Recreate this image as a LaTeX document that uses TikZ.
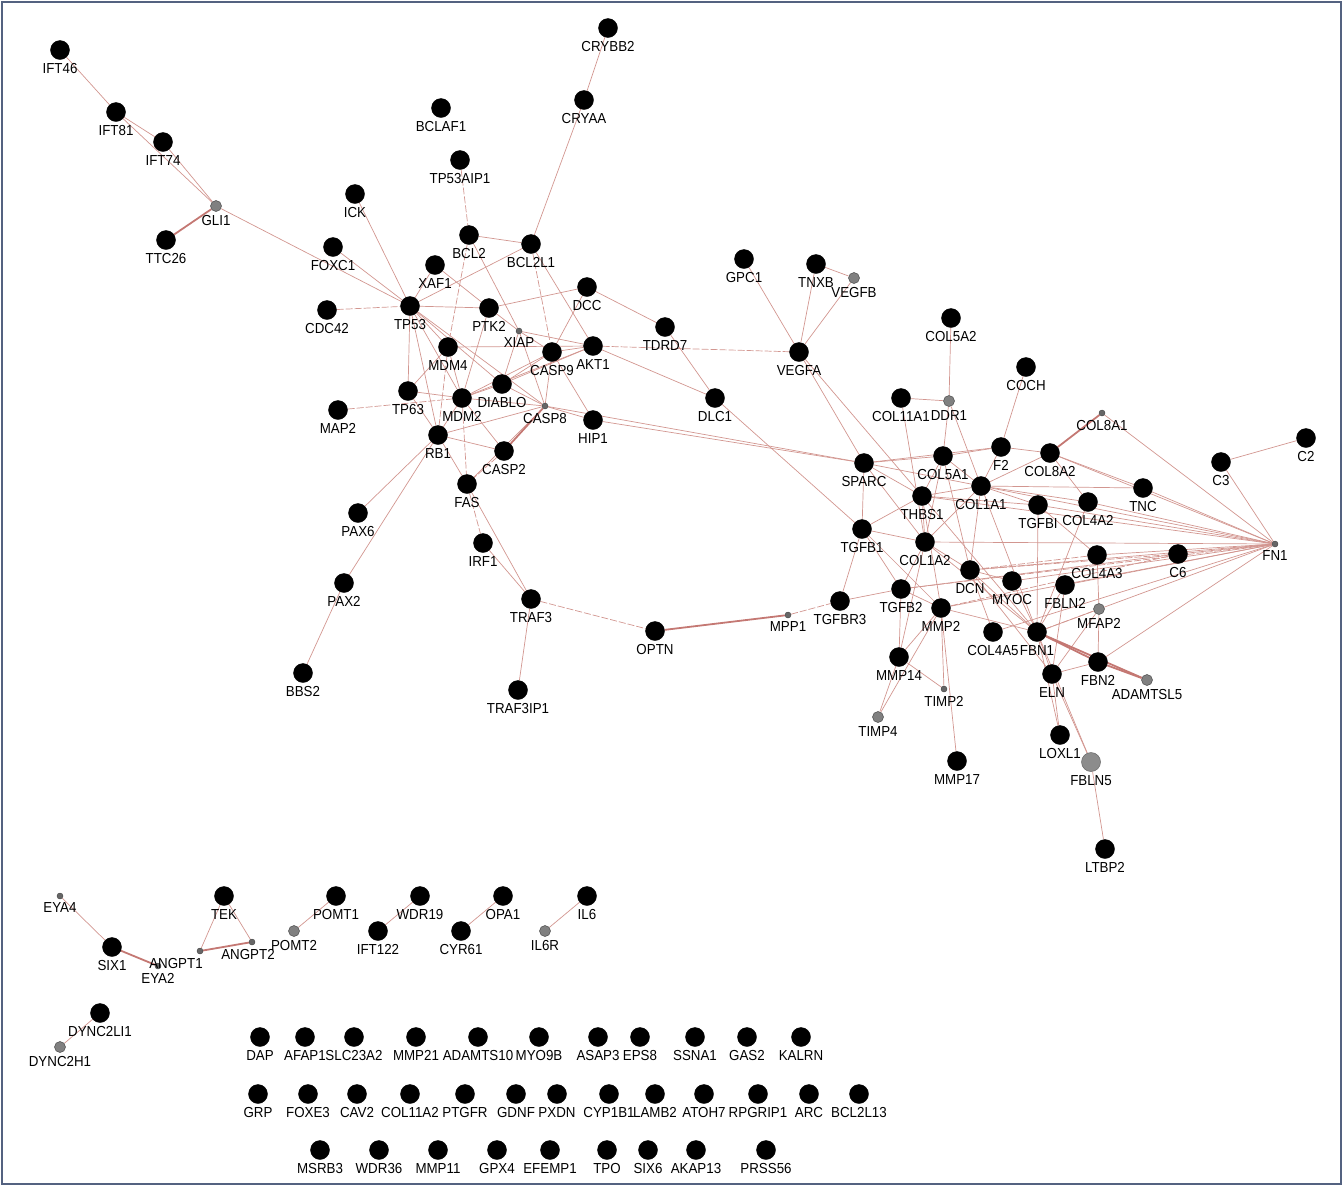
\documentclass[tikz,border=0pt]{standalone}
\usepackage{fontspec}
\setmainfont{Liberation Sans}[FakeStretch=0.92]
\usetikzlibrary{backgrounds}
\definecolor{edgec}{RGB}{210,150,144}
\definecolor{edgek}{RGB}{196,120,115}
\definecolor{framec}{RGB}{84,98,128}
\tikzset{
 bn/.style={circle,fill=black,draw=black,minimum size=19pt,inner sep=0pt},
 sn/.style={circle,fill=black!60,draw=black!75,minimum size=6pt,inner sep=0pt,line width=0.4pt},
 mn/.style={circle,fill=black!50,draw=black!70,minimum size=11pt,inner sep=0pt,line width=0.5pt},
 gn/.style={circle,fill=black!45,draw=black!60,minimum size=19pt,inner sep=0pt,line width=0.5pt},
 lab/.style={font=\fontsize{14.5}{16}\selectfont,inner sep=1.5pt,text=black},
 ed/.style={draw=edgec,line width=0.7pt},
 edd/.style={draw=edgec,line width=0.7pt,dash pattern=on 7pt off 2pt},
 edt/.style={draw=edgek,line width=1.8pt},
 every label/.style={label distance=2pt},
}
\newcommand\gnode[5][bn]{\node[#1,label={[lab]below:#5}] (#2) at (#3,#4) {};}
\begin{document}
\begin{tikzpicture}[x=1pt,y=-1pt]
\useasboundingbox (0,0) rectangle (1344,1187);
\draw[framec,line width=2pt] (2,2) rectangle (1341,1184);
% ---- main component, left part
\gnode{IFT46}{60}{50}{IFT46}
\gnode{IFT81}{116}{112}{IFT81}
\gnode{IFT74}{163}{142}{IFT74}
\gnode[mn]{GLI1}{216}{206}{GLI1}
\gnode{TTC26}{166}{240}{TTC26}
\gnode{ICK}{355}{194}{ICK}
\gnode{FOXC1}{333}{247}{FOXC1}
\gnode{CDC42}{327}{310}{CDC42}
\gnode{TP53}{410}{306}{TP53}
\gnode{XAF1}{435}{265}{XAF1}
\gnode{BCLAF1}{441}{108}{BCLAF1}
\gnode{TP53AIP1}{460}{160}{TP53AIP1}
\gnode{BCL2}{469}{235}{BCL2}
\gnode{BCL2L1}{531}{244}{BCL2L1}
\gnode{CRYBB2}{608}{28}{CRYBB2}
\gnode{CRYAA}{584}{100}{CRYAA}
\gnode{PTK2}{489}{308}{PTK2}
\gnode{DCC}{587}{287}{DCC}
\gnode[sn]{XIAP}{519}{331}{XIAP}
\gnode{MDM4}{448}{347}{MDM4}
\gnode{CASP9}{552}{352}{CASP9}
\gnode{AKT1}{593}{346}{AKT1}
\gnode{DIABLO}{502}{384}{DIABLO}
\gnode{TP63}{408}{391}{TP63}
\gnode{MDM2}{462}{398}{MDM2}
\gnode[sn]{CASP8}{545}{406}{CASP8}
\gnode{HIP1}{593}{420}{HIP1}
\gnode{MAP2}{338}{410}{MAP2}
\gnode{RB1}{438}{435}{RB1}
\gnode{CASP2}{504}{451}{CASP2}
\gnode{FAS}{467}{484}{FAS}
\gnode{PAX6}{358}{513}{PAX6}
\gnode{IRF1}{483}{543}{IRF1}
\gnode{PAX2}{344}{583}{PAX2}
\gnode{BBS2}{303}{673}{BBS2}
\gnode{TRAF3}{531}{599}{TRAF3}
\gnode{TRAF3IP1}{518}{690}{TRAF3IP1}
\gnode{OPTN}{655}{631}{OPTN}
\gnode{TDRD7}{665}{327}{TDRD7}
\gnode{DLC1}{715}{398}{DLC1}
\gnode{GPC1}{744}{259}{GPC1}
\gnode{TNXB}{816}{264}{TNXB}
\gnode[mn]{VEGFB}{854}{278}{VEGFB}
\gnode{VEGFA}{799}{352}{VEGFA}
\gnode[sn]{MPP1}{788}{615}{MPP1}
\gnode{TGFBR3}{840}{601}{TGFBR3}
% ---- right part
\gnode{COL5A2}{951}{318}{COL5A2}
\gnode{COCH}{1026}{367}{COCH}
\gnode{COL11A1}{901}{398}{COL11A1}
\gnode[mn]{DDR1}{949}{401}{DDR1}
\gnode[sn]{COL8A1}{1102}{413}{COL8A1}
\gnode{C2}{1306}{438}{C2}
\gnode{C3}{1221}{462}{C3}
\gnode{F2}{1001}{447}{F2}
\gnode{COL8A2}{1050}{453}{COL8A2}
\gnode{COL5A1}{943}{456}{COL5A1}
\gnode{SPARC}{864}{463}{SPARC}
\gnode{COL1A1}{981}{486}{COL1A1}
\gnode{THBS1}{922}{496}{THBS1}
\gnode{TGFBI}{1038}{505}{TGFBI}
\gnode{COL4A2}{1088}{502}{COL4A2}
\gnode{TNC}{1143}{488}{TNC}
\gnode[sn]{FN1}{1275}{544}{FN1}
\gnode{TGFB1}{862}{529}{TGFB1}
\gnode{COL1A2}{925}{542}{COL1A2}
\gnode{COL4A3}{1097}{555}{COL4A3}
\gnode{C6}{1178}{554}{C6}
\gnode{DCN}{970}{570}{DCN}
\gnode{MYOC}{1012}{581}{MYOC}
\gnode{FBLN2}{1065}{585}{FBLN2}
\gnode{TGFB2}{901}{589}{TGFB2}
\gnode{MMP2}{941}{608}{MMP2}
\gnode[mn]{MFAP2}{1099}{609}{MFAP2}
\gnode{COL4A5}{993}{632}{COL4A5}
\gnode{FBN1}{1037}{632}{FBN1}
\gnode{FBN2}{1098}{662}{FBN2}
\gnode[mn]{ADAMTSL5}{1147}{680}{ADAMTSL5}
\gnode{ELN}{1052}{674}{ELN}
\gnode{MMP14}{899}{657}{MMP14}
\gnode[sn]{TIMP2}{944}{689}{TIMP2}
\gnode[mn]{TIMP4}{878}{717}{TIMP4}
\gnode{LOXL1}{1060}{735}{LOXL1}
\gnode[gn]{FBLN5}{1091}{762}{FBLN5}
\gnode{MMP17}{957}{761}{MMP17}
\gnode{LTBP2}{1105}{849}{LTBP2}
% ---- small components
\gnode[sn]{EYA4}{60}{896}{EYA4}
\gnode{SIX1}{112}{947}{SIX1}
\gnode[sn]{EYA2}{158}{966}{EYA2}
\gnode{TEK}{224}{896}{TEK}
\node[sn,label={[lab,xshift=-24pt]below:ANGPT1}] (ANGPT1) at (200,951) {};
\node[sn,label={[lab,xshift=-4pt]below:ANGPT2}] (ANGPT2) at (252,942) {};
\gnode[mn]{POMT2}{294}{931}{POMT2}
\gnode{POMT1}{336}{896}{POMT1}
\gnode{WDR19}{420}{896}{WDR19}
\gnode{IFT122}{378}{931}{IFT122}
\gnode{OPA1}{503}{896}{OPA1}
\gnode{CYR61}{461}{931}{CYR61}
\gnode{IL6}{587}{896}{IL6}
\gnode[mn]{IL6R}{545}{931}{IL6R}
\gnode{DYNC2LI1}{100}{1013}{DYNC2LI1}
\gnode[mn]{DYNC2H1}{60}{1047}{DYNC2H1}
% ---- isolated nodes
\foreach \n/\x in {DAP/260,AFAP1/305,SLC23A2/354,MMP21/416,ADAMTS10/478,MYO9B/539,ASAP3/598,EPS8/640,SSNA1/695,GAS2/747,KALRN/801}
  \node[bn,label={[lab]below:\n}] (\n) at (\x,1037) {};
\foreach \n/\x in {GRP/258,FOXE3/308,CAV2/357,COL11A2/410,PTGFR/465,GDNF/516,PXDN/557,CYP1B1/609,LAMB2/655,ATOH7/704,RPGRIP1/758,ARC/809,BCL2L13/859}
  \node[bn,label={[lab]below:\n}] (\n) at (\x,1094) {};
\foreach \n/\x in {MSRB3/320,WDR36/379,MMP11/438,GPX4/497,EFEMP1/550,TPO/607,SIX6/648,AKAP13/696,PRSS56/766}
  \node[bn,label={[lab]below:\n}] (\n) at (\x,1150) {};
% ---- edges
\begin{scope}[on background layer]
\foreach \a/\b in {IFT46/IFT81,IFT81/IFT74,IFT81/GLI1,IFT74/GLI1,GLI1/TP53,ICK/TP53,FOXC1/TP53,XAF1/TP53,XAF1/PTK2,TP53/PTK2,TP53/BCL2L1,TP53/MDM4,TP53/MDM2,TP53/TP63,TP53/RB1,TP53/CASP8,TP53/DIABLO,
  CRYBB2/CRYAA,CRYAA/BCL2L1,BCL2/BCL2L1,BCL2/XIAP,BCL2L1/AKT1,PTK2/DCC,PTK2/XIAP,PTK2/MDM2,XIAP/AKT1,XIAP/CASP9,XIAP/CASP8,XIAP/DIABLO,MDM4/AKT1,MDM4/MDM2,DCC/CASP9,DCC/TDRD7,AKT1/DLC1,TDRD7/DLC1,AKT1/CASP9,AKT1/DIABLO,AKT1/MDM2,CASP9/HIP1,CASP9/DIABLO,CASP8/HIP1,CASP8/SPARC,HIP1/SPARC,DLC1/TGFB1,
  VEGFA/SPARC,VEGFA/THBS1,GPC1/VEGFA,TNXB/VEGFA,VEGFB/VEGFA,TNXB/VEGFB,CASP8/FAS,CASP8/RB1,CASP8/MDM2,CASP8/CASP9,CASP8/DIABLO,CASP2/RB1,CASP2/MDM2,RB1/MDM2,RB1/TP63,RB1/FAS,RB1/PAX6,RB1/PAX2,PAX2/BBS2,TP63/MDM2,TP63/MDM4,MDM2/DIABLO,MDM2/CASP9,FAS/TRAF3,IRF1/TRAF3,TRAF3/TRAF3IP1,TGFBR3/TGFB1,TGFBR3/TGFB2,
  COL5A2/DDR1,COL11A1/DDR1,DDR1/COL5A1,DDR1/COL1A1,COL11A1/COL1A2,COCH/F2,COL8A1/FN1,C2/C3,C3/FN1,F2/COL5A1,F2/COL8A2,F2/COL1A1,F2/SPARC,COL8A2/COL1A1,COL8A2/COL4A2,COL8A2/TNC,COL8A2/FN1,
  SPARC/COL5A1,SPARC/THBS1,SPARC/COL1A1,SPARC/TGFB1,SPARC/COL1A2,COL5A1/THBS1,COL5A1/COL1A1,COL5A1/COL1A2,COL5A1/DCN,COL1A1/THBS1,COL1A1/TGFBI,COL1A1/COL4A2,COL1A1/FN1,COL1A1/COL1A2,COL1A1/DCN,COL1A1/TNC,COL1A1/FBN1,
  THBS1/TGFB1,THBS1/COL1A2,THBS1/FN1,THBS1/TGFBI,THBS1/MMP2,THBS1/FBN1,TGFBI/FBN1,TGFBI/COL4A3,TGFBI/FN1,COL4A2/FN1,COL4A2/FBN1,TNC/FN1,TGFB1/COL1A2,TGFB1/TGFB2,TGFB1/MMP2,
  COL1A2/FN1,COL1A2/DCN,COL1A2/MMP14,COL1A2/FBN1,COL1A2/TGFB2,COL4A3/FN1,COL4A3/MFAP2,C6/FN1,C6/TGFB2,DCN/FN1,DCN/MYOC,DCN/FBN1,DCN/ELN,MYOC/FN1,MYOC/FBN1,FBLN2/FN1,FBLN2/FBN1,FBLN2/ELN,
  TGFB2/MMP2,TGFB2/MMP14,MMP2/FBN1,MMP2/MMP14,MMP2/TIMP2,MMP2/MMP17,MMP2/FN1,MMP2/TIMP4,MMP14/TIMP4,MMP14/TIMP2,MFAP2/FBN2,MFAP2/ELN,FBN1/ELN,FBN1/FN1,FBN1/LOXL1,FBN2/ELN,FBN2/FN1,ELN/LOXL1,ELN/FBLN5,FBLN5/LTBP2,FBN1/FBLN5,COL4A5/FN1,COL4A5/DCN,
  EYA4/SIX1,TEK/ANGPT1,TEK/ANGPT2,POMT2/POMT1,IFT122/WDR19,CYR61/OPA1,IL6R/IL6,DYNC2H1/DYNC2LI1}
  \draw[ed] (\a) -- (\b);
\foreach \a/\b in {CDC42/TP53,TP53AIP1/BCL2,BCL2/MDM4,BCL2L1/CASP9,AKT1/VEGFA,MDM4/RB1,MAP2/MDM2,MDM2/FAS,CASP2/FAS,FAS/IRF1,TRAF3/OPTN,MPP1/TGFBR3,COL4A3/DCN,C6/DCN,TGFB2/FN1,MFAP2/FBN1,C6/MMP2}
  \draw[edd] (\a) -- (\b);
\foreach \a/\b in {GLI1/TTC26,OPTN/MPP1,CASP8/CASP2,COL8A1/COL8A2,FBN1/FBN2,FBN2/ADAMTSL5,FBN1/ADAMTSL5,SIX1/EYA2,ANGPT1/ANGPT2}
  \draw[edt] (\a) -- (\b);
\end{scope}
\end{tikzpicture}
\end{document}
